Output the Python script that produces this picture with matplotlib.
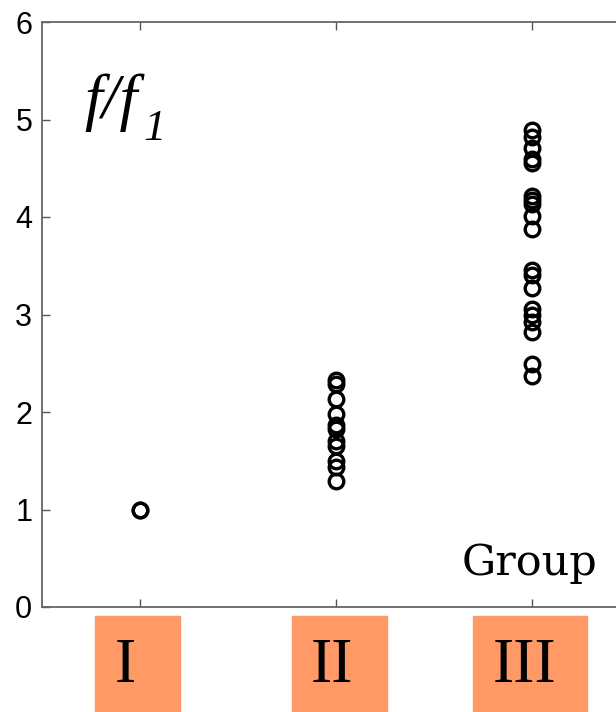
import matplotlib.pyplot as plt
from matplotlib.patches import Rectangle

# values
groups = ['I', 'II', 'III']
group_1 = [1.0, 1.0]
group_2 = [2.33, 2.29, 2.13, 1.98, 1.87, 1.83, 1.70, 1.65, 1.50, 1.44, 1.29]
group_3 = [4.89, 4.82, 4.71, 4.60, 4.55, 4.22, 4.17, 4.13, 4.01, 3.88,
           3.46, 3.41, 3.27, 3.06, 3.00, 2.92, 2.82, 2.49, 2.37]
yticks = [0, 1, 2, 3, 4, 5, 6]

W, H = 616, 712
fig = plt.figure(figsize=(W / 100, H / 100), dpi=100)
ax = fig.add_axes([42 / W, 105 / H, 588 / W, 585 / H])

for i, vals in enumerate([group_1, group_2, group_3]):
    ax.plot([i + 1] * len(vals), vals, 'o', ms=10.5, mfc='none', mec='black', mew=2.4)

ax.set_xlim(0.5, 3.5)
ax.set_ylim(0, 6)
ax.set_xticks([1, 2, 3])
ax.set_xticklabels([])
ax.set_yticks(yticks)
ax.set_yticklabels([str(t) for t in yticks], fontsize=22, family='Liberation Sans')
ax.tick_params(direction='in', length=6, width=1, color='#555555', top=True,
               pad=7)
for s in ax.spines.values():
    s.set_color('#666666')
    s.set_linewidth(1.3)

# f/f1 label, subscript drawn as its own text
fig.text(84 / W, (712 - 118) / H, 'f/f', fontsize=46, style='italic',
         family='Liberation Serif', ha='left', va='baseline')
fig.text(143 / W, (712 - 140) / H, '1', fontsize=32, style='italic',
         family='Liberation Serif', ha='left', va='baseline')
fig.text(597 / W, (712 - 563) / H, 'Group', fontsize=31,
         family='DejaVu Serif', ha='right', va='center')

# orange boxes under the ticks (pixel spans)
boxes = [(95, 180), (292, 387), (473, 587)]
text_x = [125, 332, 525]
for (x0, x1), tx, lab in zip(boxes, text_x, groups):
    fig.patches.append(Rectangle((x0 / W, 0), (x1 - x0) / W, 96 / H,
                                 transform=fig.transFigure, color='#ff9966',
                                 zorder=0))
    fig.text(tx / W, (712 - 667) / H, lab, fontsize=46, family='Liberation Serif',
             ha='center', va='center')

fig.savefig('out.png', dpi=100)
